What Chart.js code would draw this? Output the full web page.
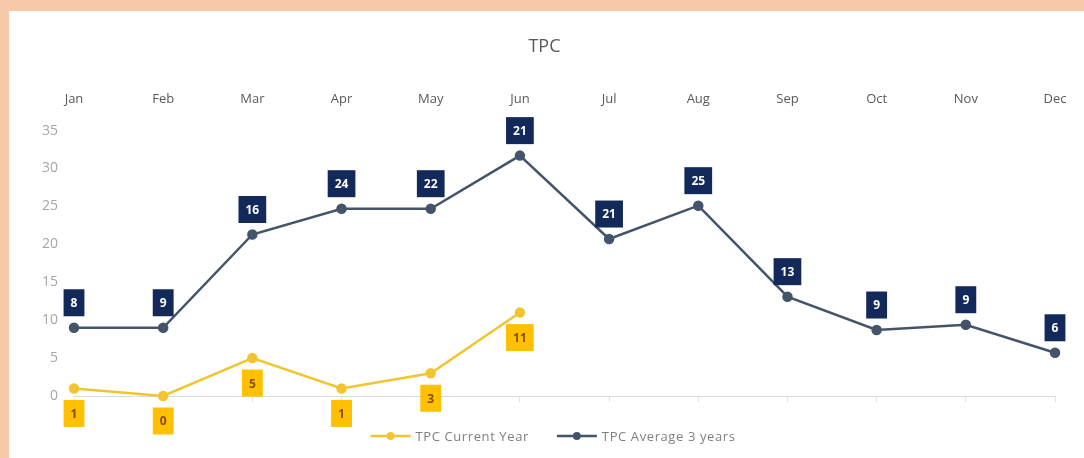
<!DOCTYPE html>
<html>
<head>
<meta charset="utf-8">
<script src="https://cdn.jsdelivr.net/npm/chart.js@4"></script>
<style>
  html, body { margin: 0; padding: 0; background: #F8C9A8; }
  #wrap { position: absolute; left: 9px; top: 11px; width: 1075px; height: 447px; background: #fff; }
</style>
</head>
<body>
<div id="wrap"><canvas id="tpc" width="1075" height="447"></canvas></div>
<script>
const months = ['Jan', 'Feb', 'Mar', 'Apr', 'May', 'Jun', 'Jul', 'Aug', 'Sep', 'Oct', 'Nov', 'Dec']
const currentYear = [1, 0, 5, 1, 3, 11, null, null, null, null, null, null]
const currentLabels = ['1', '0', '5', '1', '3', '11']
const average3y = [9, 9, 21.3, 24.7, 24.7, 31.7, 20.7, 25.1, 13.1, 8.7, 9.4, 5.7]
const averageLabels = ['8', '9', '16', '24', '22', '21', '21', '25', '13', '9', '9', '6']
const yTicks = [0, 5, 10, 15, 20, 25, 30, 35]

const YELLOW = '#F2C530'
const NAVY_LINE = '#44546A'

// boxed value labels, one per point (above for average, below for current year)
const boxLabels = {
    id: 'boxLabels',
    afterDatasetsDraw(chart) {
        const ctx = chart.ctx
        ctx.save()
        ctx.font = 'bold 12px "Open Sans"'
        ctx.textAlign = 'center'
        ctx.textBaseline = 'middle'
        chart.data.datasets.forEach((ds, i) => {
            const meta = chart.getDatasetMeta(i)
            meta.data.forEach((pt, j) => {
                const txt = ds.boxText[j]
                if (txt == null || ds.data[j] == null) return
                const w = ctx.measureText(txt).width + 14
                const h = 27
                const cy = pt.y + ds.boxOffset
                ctx.fillStyle = ds.boxFill
                ctx.fillRect(pt.x - w / 2, cy - h / 2, w, h)
                ctx.fillStyle = ds.boxInk
                ctx.fillText(txt, pt.x, cy + 1)
            })
        })
        ctx.restore()
    }
}

// legend: short line with a dot, then the name
const lineLegend = {
    id: 'lineLegend',
    afterDraw(chart) {
        const ctx = chart.ctx
        ctx.save()
        ctx.font = '13px "Open Sans"'
        ctx.letterSpacing = '0.6px'
        ctx.textBaseline = 'middle'
        const y = 425
        const items = chart.data.datasets.map(ds => ({ ds, w: 40 + 5 + ctx.measureText(ds.label).width }))
        const total = items.reduce((a, it) => a + it.w, 0) + 28 * (items.length - 1)
        let x = 544 - total / 2
        items.forEach(it => {
            ctx.strokeStyle = it.ds.borderColor
            ctx.lineWidth = 2.5
            ctx.beginPath()
            ctx.moveTo(x, y)
            ctx.lineTo(x + 40, y)
            ctx.stroke()
            ctx.fillStyle = it.ds.borderColor
            ctx.beginPath()
            ctx.arc(x + 20, y, 4, 0, Math.PI * 2)
            ctx.fill()
            ctx.fillStyle = '#7F7F7F'
            ctx.fillText(it.ds.label, x + 45, y + 1)
            x += it.w + 28
        })
        ctx.restore()
    }
}

new Chart(document.getElementById('tpc'), {
    type: 'line',
    data: {
        labels: months,
        datasets: [
            {
                label: 'TPC Current Year',
                data: currentYear,
                borderColor: YELLOW,
                backgroundColor: YELLOW,
                borderWidth: 2.5,
                pointRadius: 4,
                pointHoverRadius: 4,
                tension: 0,
                clip: false,
                boxText: currentLabels,
                boxOffset: 25,
                boxFill: '#FFC000',
                boxInk: '#8A4B08'
            },
            {
                label: 'TPC Average 3 years',
                data: average3y,
                borderColor: NAVY_LINE,
                backgroundColor: NAVY_LINE,
                borderWidth: 2.5,
                pointRadius: 4,
                pointHoverRadius: 4,
                tension: 0,
                clip: false,
                boxText: averageLabels,
                boxOffset: -25,
                boxFill: '#13295A',
                boxInk: '#FFFFFF'
            }
        ]
    },
    options: {
        responsive: false,
        animation: false,
        layout: { padding: { top: 0, left: 25, right: 29, bottom: 56 } },
        plugins: {
            legend: { display: false },
            tooltip: { enabled: false },
            title: {
                display: true,
                text: 'TPC',
                color: '#595959',
                font: { family: 'Open Sans', size: 18, weight: 'normal' },
                padding: { top: 25, bottom: 0 }
            }
        },
        scales: {
            x: {
                position: 'top',
                offset: false,
                grid: { display: false, drawTicks: false },
                border: { display: false },
                ticks: {
                    color: '#595959',
                    font: { family: 'Open Sans', size: 13 },
                    padding: 24,
                    maxRotation: 0,
                    autoSkip: false
                },
                afterFit: s => { s.height = 73; s.paddingLeft = 0; s.paddingRight = 0 }
            },
            x2: {
                position: 'bottom',
                offset: false,
                labels: months,
                grid: { drawOnChartArea: false, drawTicks: true, tickLength: 6, color: '#E3E3E3' },
                border: { display: true, color: '#D9D9D9', width: 1 },
                ticks: { display: false, autoSkip: false },
                afterFit: s => { s.height = 6; s.paddingLeft = 0; s.paddingRight = 0 }
            },
            y: {
                min: 0,
                max: 35,
                afterBuildTicks: s => { s.ticks = yTicks.map(v => ({ value: v })) },
                grid: { display: false, drawTicks: false },
                border: { display: false },
                ticks: {
                    color: '#A6A6A6',
                    font: { family: 'Open Sans', size: 14 },
                    padding: 16
                },
                afterFit: s => { s.width = 40 }
            }
        }
    },
    plugins: [boxLabels, lineLegend]
})
</script>
</body>
</html>
